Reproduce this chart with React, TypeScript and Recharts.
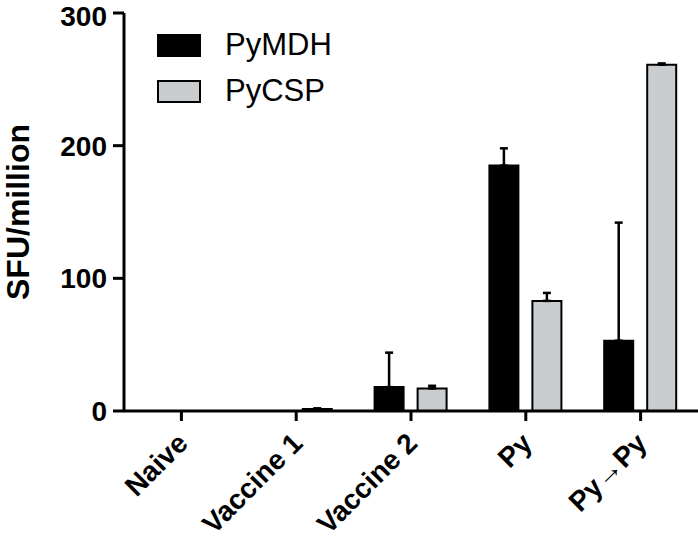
import { BarChart, Bar, XAxis, YAxis, ErrorBar } from "recharts";

const groups = ["Naive", "Vaccine 1", "Vaccine 2", "Py", "Py\u2192Py"];
const mdh = [0, 0, 18, 185, 53];
const mdhErr = [0, 0, 26, 13, 89];
const csp = [0, 1.5, 17, 83, 261];
const cspErr = [0, 0.5, 2, 6, 1];
const yTicks = [0, 100, 200, 300];

const series = [
  { key: "PyMDH", fill: "#000", err: "mdhErr" },
  { key: "PyCSP", fill: "#c9cdd0", err: "cspErr" },
];

const data = groups.map((g, i) => ({
  group: g,
  PyMDH: mdh[i],
  PyCSP: csp[i],
  mdhErr: [0, mdhErr[i]],
  cspErr: [0, cspErr[i]],
}));

const FONT = "'Liberation Sans', Arial, Helvetica, sans-serif";

function XTick({ x, y, payload }: any) {
  return (
    <g transform={`translate(${x + 8},${y + 22})`}>
      <text
        transform="rotate(-45)"
        textAnchor="end"
        fontFamily={FONT}
        fontWeight="bold"
        fontSize={28}
        fill="#000"
      >
        {payload.value}
      </text>
    </g>
  );
}

function LegendBox() {
  return (
    <div
      style={{
        position: "absolute",
        left: 157,
        top: 22,
        fontFamily: FONT,
        fontSize: 31,
        color: "#000",
      }}
    >
      {series.map((s) => (
        <div
          key={s.key}
          style={{ display: "flex", alignItems: "center", height: 46 }}
        >
          <div
            style={{
              width: 40,
              height: 19,
              background: s.fill,
              border: "2px solid #000",
              marginRight: 24,
            }}
          />
          <span>{s.key}</span>
        </div>
      ))}
    </div>
  );
}

export default function App() {
  return (
    <div
      style={{
        position: "absolute",
        left: 0,
        top: 0,
        width: 698,
        height: 540,
        background: "#fff",
      }}
    >
      <BarChart
        width={698}
        height={540}
        data={data}
        margin={{ top: 13, right: 0, bottom: 0, left: 0 }}
        barSize={29}
        barGap={14}
      >
        <XAxis
          dataKey="group"
          height={129}
          axisLine={{ stroke: "#000", strokeWidth: 3 }}
          tickLine={{ stroke: "#000", strokeWidth: 3 }}
          tickSize={10}
          tick={<XTick />}
          interval={0}
        />
        <YAxis
          width={124}
          domain={[0, 300]}
          ticks={yTicks}
          axisLine={{ stroke: "#000", strokeWidth: 3 }}
          tickLine={{ stroke: "#000", strokeWidth: 3 }}
          tickSize={11}
          tickMargin={6}
          tick={{ fontFamily: FONT, fontWeight: "bold", fontSize: 28, fill: "#000" }}
          label={{
            value: "SFU/million",
            angle: -90,
            position: "insideLeft",
            offset: 18,
            style: {
              fontFamily: FONT,
              fontWeight: "bold",
              fontSize: 32,
              fill: "#000",
              textAnchor: "middle",
            },
          }}
        />
        {series.map((s) => (
          <Bar
            key={s.key}
            dataKey={s.key}
            fill={s.fill}
            stroke="#000"
            strokeWidth={2}
            isAnimationActive={false}
          >
            <ErrorBar
              dataKey={s.err}
              width={4}
              stroke="#000"
              strokeWidth={2.5}
              direction="y"
            />
          </Bar>
        ))}
      </BarChart>
      <LegendBox />
    </div>
  );
}
